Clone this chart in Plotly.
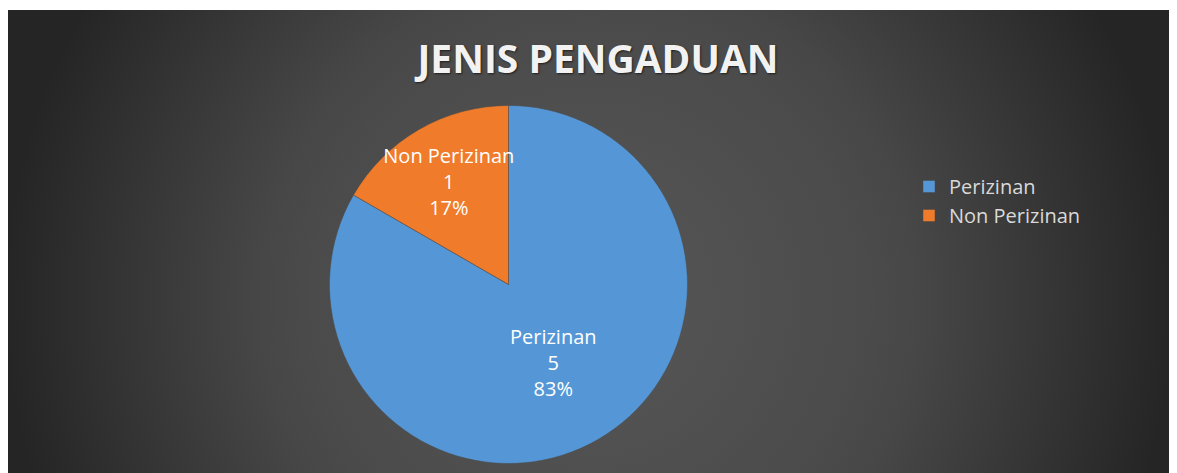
import base64
import plotly.graph_objects as go

# Data
categories = ["Perizinan", "Non Perizinan"]
values = [5, 1]
slice_colors = ["#5597d6", "#ef7b2b"]
title_text = "JENIS PENGADUAN"

W, H = 1169, 465
MT = 2
PW, PH = W, H - MT
OFF = 8  # page body offset


def fx(px):
    return (px - OFF) / PW


def fy(py):
    return 1 - (py - OFF - MT) / PH


# Radial dark gradient background as an SVG image
svg = f'''<svg xmlns="http://www.w3.org/2000/svg" width="{PW}" height="{PH}" viewBox="0 0 {PW} {PH}">
<defs><radialGradient id="g" gradientUnits="userSpaceOnUse" cx="582" cy="290" r="585">
<stop offset="0" stop-color="#575757"/>
<stop offset="0.47" stop-color="#4b4b4b"/>
<stop offset="0.56" stop-color="#474747"/>
<stop offset="0.82" stop-color="#333333"/>
<stop offset="1" stop-color="#252525"/>
</radialGradient></defs>
<rect x="0" y="0" width="{PW}" height="{PH}" fill="url(#g)"/>
</svg>'''
bg_uri = "data:image/svg+xml;base64," + base64.b64encode(svg.encode()).decode()

fig = go.Figure()
fig.add_trace(go.Pie(
    labels=categories,
    values=values,
    sort=False,
    direction="clockwise",
    rotation=0,
    marker=dict(colors=slice_colors, line=dict(color="#4a4a4a", width=0.5)),
    texttemplate="%{label}<br>%{value}<br>%{percent:.0%}",
    textposition="inside",
    insidetextorientation="horizontal",
    insidetextfont=dict(color="white", size=20, family="Open Sans"),
    domain=dict(x=[fx(329.5), fx(687.5)], y=[fy(463.5), fy(105.5)]),
    hoverinfo="label+value+percent",
))

fig.update_layout(
    width=W, height=H,
    margin=dict(l=0, r=0, t=MT, b=0),
    paper_bgcolor="white",
    plot_bgcolor="rgba(0,0,0,0)",
    uniformtext=dict(minsize=20, mode="show"),
    title=dict(
        text=title_text,
        x=(598 - OFF) / W, xanchor="center",
        y=1 - (59 - OFF) / H, yanchor="middle", yref="container",
        font=dict(family="Open Sans", size=39, weight="bold", color="#f2f2f2",
                  shadow="1px 1px 2px rgba(0,0,0,0.6)"),
    ),
    legend=dict(
        x=fx(909), xanchor="left",
        y=fy(201), yanchor="middle",
        font=dict(family="Open Sans", size=20, color="#d9d9d9"),
        bgcolor="rgba(0,0,0,0)",
        itemwidth=30,
    ),
    images=[dict(source=bg_uri, xref="paper", yref="paper", x=0, y=1,
                 sizex=1, sizey=1, xanchor="left", yanchor="top",
                 sizing="stretch", layer="below")],
)

fig.write_html("out.html")
